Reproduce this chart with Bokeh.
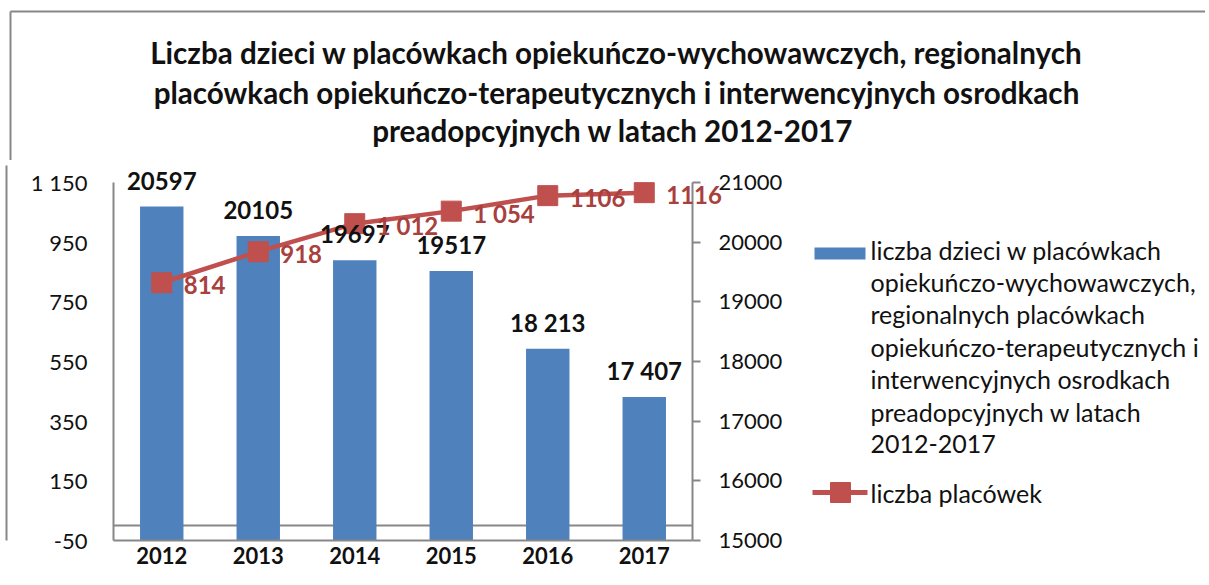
from bokeh.plotting import figure
from bokeh.layouts import column, row
from bokeh.models import Range1d, LinearAxis, FixedTicker, Label, Span
from bokeh.core.properties import value
from bokeh.embed import file_html
from bokeh.resources import INLINE

# ---------------- data ----------------
years = ["2012", "2013", "2014", "2015", "2016", "2017"]
children = [20597, 20105, 19697, 19517, 18213, 17407]
children_labels = ["20597", "20105", "19697", "19517", "18 213", "17 407"]
facilities = [814, 918, 1012, 1054, 1106, 1116]
facilities_labels = ["814", "918", "1 012", "1 054", "1106", "1116"]
left_ticks = [-50, 150, 350, 550, 750, 950, 1150]
left_tick_labels = ["-50", "150", "350", "550", "750", "950", "1 150"]
right_ticks = [15000, 16000, 17000, 18000, 19000, 20000, 21000]
right_tick_labels = ["15000", "16000", "17000", "18000", "19000", "20000", "21000"]
title_lines = [
    "Liczba dzieci w placówkach opiekuńczo-wychowawczych, regionalnych",
    "placówkach opiekuńczo-terapeutycznych i interwencyjnych osrodkach",
    "preadopcyjnych  w latach 2012-2017",
]
legend_bar_lines = [
    "liczba dzieci w placówkach",
    "opiekuńczo-wychowawczych,",
    "regionalnych placówkach",
    "opiekuńczo-terapeutycznych i",
    "interwencyjnych osrodkach",
    "preadopcyjnych w latach",
    "2012-2017",
]
legend_line_label = "liczba placówek"

# ---------------- style / layout (page pixels) ----------------
BLUE = "#4F81BD"
RED = "#C0504D"
RED_TXT = "#A8403E"
GRAY = "#878787"
TXT = "#111111"
FONT = "Lato"

W, H = 1205, 581
TITLE_H = 160                        # height of the title strip
FL, FR, FT, FB = 113, 692, 182, 540  # plotted area (page px)
FRAME_T = 165                        # frame top (a little above the plotted area)
CHART_RIGHT = 155                    # right panel of the chart (axis + overflow label)
CW = FR + CHART_RIGHT                # page x where the chart figure ends
LEG_X0 = 805                         # page x where the legend strip starts
CH = H - TITLE_H

n = len(years)
xs = list(range(n))
X0, X1 = -0.5, n - 0.5
YL0, YL1 = left_ticks[0], left_ticks[-1]
YR0, YR1 = right_ticks[0], right_ticks[-1]
ux = (X1 - X0) / (FR - FL)
uyl = (YL1 - YL0) / (FB - FT)
uyr = (YR1 - YR0) / (FB - FT)

# ================= title strip =================
pt = figure(width=W, height=TITLE_H, x_range=Range1d(0, W), y_range=Range1d(TITLE_H, 0),
            output_backend="svg", toolbar_location=None,
            min_border=0, x_axis_type=None, y_axis_type=None)
pt.outline_line_color = None
pt.grid.grid_line_color = None
pt.text(x=[616] * len(title_lines), y=[52, 92, 130], text=title_lines,
        text_align="center", text_baseline="middle",
        text_font=value(FONT), text_font_style="bold", text_font_size="29.6px",
        text_color=TXT)
# outer chart border (top + left)
pt.segment(x0=[10, 10], y0=[11, 11], x1=[W + 5, 10], y1=[11, TITLE_H + 5],
           line_color=GRAY, line_width=2)

# ================= chart =================
p = figure(
    width=CW, height=CH,
    x_range=Range1d(X0, X1),
    y_range=Range1d(YL0, YL0 + (FB - FRAME_T) * uyl),
    output_backend="svg", toolbar_location=None,
    min_border_left=FL, min_border_right=CHART_RIGHT,
    min_border_top=FRAME_T - TITLE_H, min_border_bottom=H - FB,
    x_axis_type=None, y_axis_type=None,
)
p.extra_y_ranges = {"right": Range1d(YR0, YR0 + (FB - FRAME_T) * uyr)}
p.outline_line_color = None
p.border_fill_color = "white"

xaxis = LinearAxis(ticker=FixedTicker(ticks=xs), bounds=(X0, X1))
xaxis.major_label_overrides = {i: y for i, y in zip(xs, years)}
xaxis.axis_line_color = GRAY
xaxis.axis_line_width = 2
xaxis.major_tick_line_color = None
xaxis.minor_tick_line_color = None
xaxis.major_tick_out = 0
xaxis.major_tick_in = 0
xaxis.major_label_standoff = 6
xaxis.major_label_text_font = FONT
xaxis.major_label_text_font_style = "bold"
xaxis.major_label_text_font_size = "22px"
xaxis.major_label_text_color = TXT
p.add_layout(xaxis, "below")

laxis = LinearAxis(ticker=FixedTicker(ticks=left_ticks), bounds=(YL0, YL1))
laxis.major_label_overrides = {t: s for t, s in zip(left_ticks, left_tick_labels)}
laxis.axis_line_color = GRAY
laxis.axis_line_width = 2
laxis.major_tick_line_color = None
laxis.minor_tick_line_color = None
laxis.major_tick_out = 0
laxis.major_tick_in = 0
laxis.minor_tick_out = 0
laxis.major_label_standoff = 26
laxis.major_label_text_font = FONT
laxis.major_label_text_font_size = "22px"
laxis.major_label_text_color = TXT
# blank axis label only pads the panel so the outer border sits at the chart's left edge
laxis.axis_label = " "
laxis.axis_label_text_font_size = "10px"
laxis.axis_label_standoff = 7
p.add_layout(laxis, "left")

# left edge of the outer chart border: a bare axis line in the outer slot of the left panel
bl = LinearAxis(ticker=FixedTicker(ticks=[]),
                bounds=(YL0 - (H - FB + 5) * uyl, YL0 + (FB - TITLE_H + 5) * uyl))
bl.axis_line_color = GRAY
bl.axis_line_width = 2
bl.major_tick_line_color = None
bl.minor_tick_line_color = None
bl.major_tick_out = 0
bl.major_tick_in = 0
bl.minor_tick_out = 0
bl.minor_tick_in = 0
bl.major_label_standoff = 0
p.add_layout(bl, "left")

raxis = LinearAxis(y_range_name="right", ticker=FixedTicker(ticks=right_ticks),
                   bounds=(YR0, YR1))
raxis.major_label_overrides = {t: s for t, s in zip(right_ticks, right_tick_labels)}
raxis.axis_line_color = GRAY
raxis.axis_line_width = 2
raxis.major_tick_line_color = GRAY
raxis.major_tick_line_width = 2
raxis.major_tick_out = 8
raxis.major_tick_in = 0
raxis.minor_tick_line_color = None
raxis.major_label_standoff = 18
raxis.major_label_text_font = FONT
raxis.major_label_text_font_size = "22px"
raxis.major_label_text_color = TXT
p.add_layout(raxis, "right")

p.ygrid.ticker = FixedTicker(ticks=left_ticks)
p.ygrid.grid_line_color = GRAY
p.ygrid.grid_line_width = 2
p.xgrid.grid_line_color = None
p.add_layout(Span(location=0, dimension="width", line_color=GRAY, line_width=2,
                  level="underlay"))

# bars (right axis)
p.vbar(x=xs, top=children, bottom=YR0, width=0.45, y_range_name="right",
       fill_color=BLUE, line_color=None)
# line (left axis)
p.line(x=xs, y=facilities, line_color=RED, line_width=4.5)
p.scatter(x=xs, y=facilities, marker="square", size=20, fill_color=RED, line_color=RED)

# data labels
for x, v, s in zip(xs, children, children_labels):
    p.add_layout(Label(x=x, y=v + 26 * uyr, y_range_name="right", text=s,
                       text_align="center", text_baseline="middle",
                       text_font=FONT, text_font_style="bold", text_font_size="24px",
                       text_color=TXT))
for i, (x, v, s) in enumerate(zip(xs, facilities, facilities_labels)):
    lab = Label(x=x + 22 * ux, y=v - 2 * uyl, text=s,
                text_align="left", text_baseline="middle",
                text_font=FONT, text_font_style="bold", text_font_size="24px",
                text_color=RED_TXT)
    # the last label runs past the plot edge: keep it in the side panel so it is not cut
    p.add_layout(lab, "right" if i == n - 1 else "center")

# ================= legend strip =================
LW = W - LEG_X0
pl = figure(width=LW, height=CH, x_range=Range1d(LEG_X0, W), y_range=Range1d(FB, FRAME_T),
            output_backend="svg", toolbar_location=None,
            min_border_left=0, min_border_right=0,
            min_border_top=FRAME_T - TITLE_H, min_border_bottom=H - FB,
            x_axis_type=None, y_axis_type=None,
            margin=(0, 0, 0, LEG_X0 - CW))
pl.outline_line_color = None
pl.grid.grid_line_color = None
pl.background_fill_alpha = 0
pl.border_fill_alpha = 0

pl.quad(left=[814], right=[865], top=[247], bottom=[259], fill_color=BLUE, line_color=None)
pl.text(x=[870] * len(legend_bar_lines), y=[249 + 32.4 * i for i in range(len(legend_bar_lines))],
        text=legend_bar_lines, text_align="left", text_baseline="middle",
        text_font=value(FONT), text_font_size="25px", text_color=TXT)
pl.segment(x0=[812], x1=[867], y0=[492], y1=[492], line_color=RED, line_width=5)
pl.scatter(x=[840], y=[492], marker="square", size=20, fill_color=RED, line_color=RED)
pl.text(x=[870], y=[492], text=[legend_line_label], text_align="left", text_baseline="middle",
        text_font=value(FONT), text_font_size="25px", text_color=TXT)

layout = column(pt, row(p, pl))
open("out.html", "w").write(file_html(layout, INLINE))
